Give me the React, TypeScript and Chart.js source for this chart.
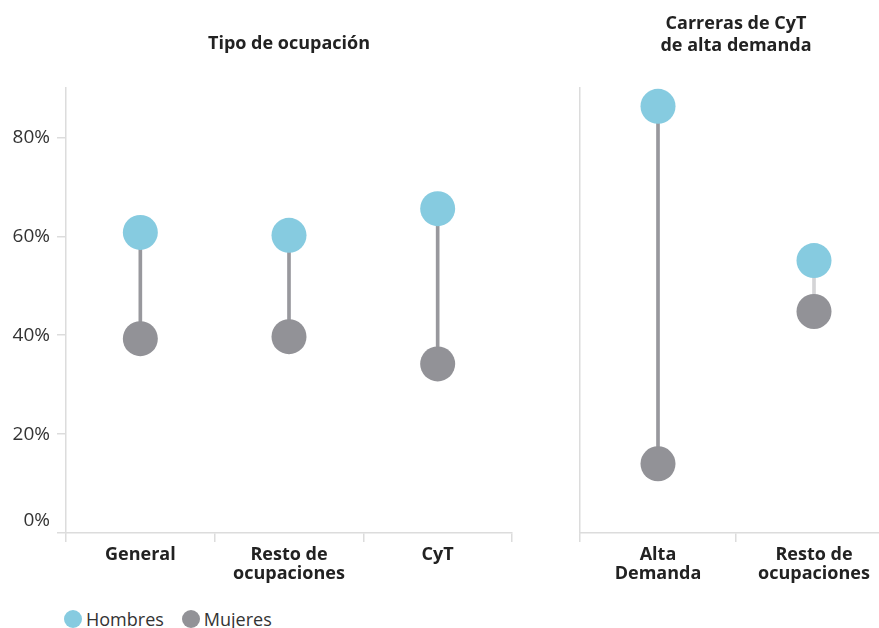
import React, { useEffect, useRef } from "react";
import { Chart, registerables } from "chart.js";

Chart.register(...registerables);

// ---- data ----
const leftCategories: (string | string[])[] = ["General", ["Resto de", "ocupaciones"], "CyT"];
const leftHombres = [60.8, 60.2, 65.6];
const leftMujeres = [39.3, 39.7, 34.2];

const rightCategories: (string | string[])[] = [["Alta", "Demanda"], ["Resto de", "ocupaciones"]];
const rightHombres = [86.3, 55.1];
const rightMujeres = [14.0, 44.8];

const yTicks = [0, 20, 40, 60, 80];
const yMax = 90;

const leftTitle = "Tipo de ocupación";
const rightTitle = ["Carreras de CyT", "de alta demanda"];
const seriesNames = ["Hombres", "Mujeres"];

// ---- styles ----
const FONT = "'Open Sans', 'Noto Sans', sans-serif";
const C_H = "#86cbe0";
const C_M = "#929297";
const C_LINE = "#98989d";
const C_LINE_LIGHT = "#d4d4d6";
const C_AXIS = "#dcdcdc";

function makeConfig(
  categories: (string | string[])[],
  hombres: number[],
  mujeres: number[],
  title: string | string[],
  titlePad: { top: number; bottom: number },
  showYLabels: boolean,
  yWidth: number,
  lineColors: string[]
): any {
  return {
    type: "bar",
    data: {
      labels: categories,
      datasets: [
        {
          type: "line",
          label: seriesNames[0],
          data: hombres,
          showLine: false,
          pointRadius: 17.5,
          pointBackgroundColor: C_H,
          pointBorderWidth: 0,
          order: 1,
        },
        {
          type: "line",
          label: seriesNames[1],
          data: mujeres,
          showLine: false,
          pointRadius: 17.5,
          pointBackgroundColor: C_M,
          pointBorderWidth: 0,
          order: 2,
        },
        {
          type: "bar",
          label: "rango",
          data: hombres.map((h, i) => [mujeres[i], h]),
          backgroundColor: lineColors,
          borderWidth: 0,
          barThickness: 3,
          order: 10,
        },
      ],
    },
    options: {
      responsive: false,
      animation: false,
      devicePixelRatio: 1,
      events: [],
      layout: { padding: { left: 0, right: 18, top: 0, bottom: 0 } },
      plugins: {
        legend: { display: false },
        tooltip: { enabled: false },
        title: {
          display: true,
          text: title,
          fullSize: false,
          color: "#222",
          padding: titlePad,
          font: { family: FONT, size: 18, weight: "bold", lineHeight: "22px" },
        },
      },
      scales: {
        x: {
          type: "category",
          offset: true,
          grid: {
            display: true,
            drawOnChartArea: false,
            drawTicks: true,
            tickLength: 9,
            color: C_AXIS,
            lineWidth: 1.5,
            offset: true,
          },
          border: { display: true, color: C_AXIS, width: 1.5 },
          ticks: {
            color: "#222",
            padding: 3,
            maxRotation: 0,
            autoSkip: false,
            font: { family: FONT, size: 18, weight: "bold", lineHeight: "19px" },
          },
          afterFit: (s: any) => {
            s.height = 67;
          },
        },
        y: {
          type: "linear",
          min: 0,
          max: yMax,
          afterBuildTicks: (s: any) => {
            s.ticks = yTicks.map((v) => ({ value: v }));
          },
          grid: {
            display: showYLabels,
            drawOnChartArea: false,
            drawTicks: true,
            tickLength: 9,
            color: C_AXIS,
            lineWidth: 1.5,
          },
          border: { display: true, color: C_AXIS, width: 1.5 },
          ticks: {
            display: showYLabels,
            color: "#333",
            padding: 7,
            font: { family: FONT, size: 19, lineHeight: 1.3 },
            callback: (v: any) => (v === 0 ? ["0%", ""] : v + "%"),
          },
          afterFit: (s: any) => {
            s.width = yWidth;
          },
        },
      },
    },
  };
}

export default function App() {
  const leftRef = useRef<HTMLCanvasElement>(null);
  const rightRef = useRef<HTMLCanvasElement>(null);

  useEffect(() => {
    const c1 = new Chart(
      leftRef.current as HTMLCanvasElement,
      makeConfig(
        leftCategories,
        leftHombres,
        leftMujeres,
        leftTitle,
        { top: 33, bottom: 33 },
        true,
        66,
        leftHombres.map(() => C_LINE)
      )
    );
    const c2 = new Chart(
      rightRef.current as HTMLCanvasElement,
      makeConfig(
        rightCategories,
        rightHombres,
        rightMujeres,
        rightTitle,
        { top: 13, bottom: 31 },
        false,
        50,
        rightHombres.map((h, i) => (h - rightMujeres[i] < 15 ? C_LINE_LIGHT : C_LINE))
      )
    );
    return () => {
      c1.destroy();
      c2.destroy();
    };
  }, []);

  const dot = (color: string) => ({
    display: "inline-block",
    width: 18,
    height: 18,
    borderRadius: "50%",
    background: color,
    marginRight: 4,
  });

  return (
    <div
      style={{
        position: "absolute",
        left: 0,
        top: 0,
        width: 879,
        height: 628,
        overflow: "hidden",
        background: "#fff",
      }}
    >
      <canvas
        ref={leftRef}
        width={530}
        height={600}
        style={{ position: "absolute", left: 0, top: 0, width: 530, height: 600 }}
      />
      <canvas
        ref={rightRef}
        width={380}
        height={600}
        style={{ position: "absolute", left: 530, top: 0, width: 380, height: 600 }}
      />
      <div
        style={{
          position: "absolute",
          left: 64,
          top: 608,
          display: "flex",
          alignItems: "center",
          fontFamily: FONT,
          fontSize: 18,
          color: "#333",
          lineHeight: "22px",
        }}
      >
        <span style={dot(C_H)} />
        <span style={{ marginRight: 18 }}>{seriesNames[0]}</span>
        <span style={dot(C_M)} />
        <span>{seriesNames[1]}</span>
      </div>
    </div>
  );
}
